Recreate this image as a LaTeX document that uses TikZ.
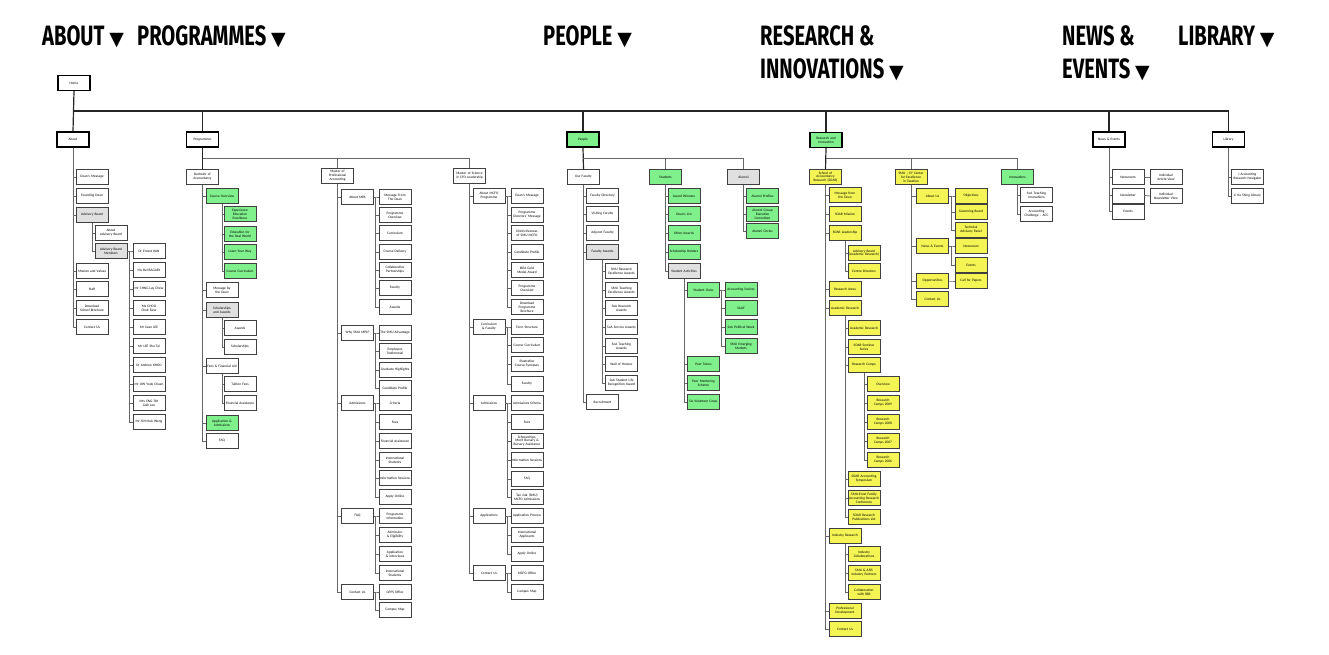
\documentclass[tikz,border=0pt]{standalone}
\usepackage{fontspec}
\newfontfamily\boxfont{Carlito}
\newfontfamily\headfont{Fira Sans}[FakeStretch=0.72]
\newfontfamily\trifont{DejaVu Sans}
\usetikzlibrary{shadows}

\definecolor{pagegreen}{RGB}{128,240,140}
\definecolor{pageyellow}{RGB}{244,244,84}
\newcommand\menutri{{\trifont\fontsize{19}{19}\selectfont ▼}}
\newcommand\boxtext{\boxfont\fontsize{3.5}{3.9}\selectfont\hyphenpenalty=10000\exhyphenpenalty=10000}

\tikzset{
  basebox/.style={minimum width=32pt, minimum height=15pt, inner sep=0.8pt, text width=30pt,
    align=center, font=\boxtext},
  page/.style={basebox, draw=black!75, line width=0.5pt, fill=white,
    drop shadow={shadow xshift=0.8pt, shadow yshift=-0.8pt, fill=black!60}},
  top/.style={basebox, draw=black, line width=1.3pt, fill=white},
  grn/.style={fill=pagegreen},
  ylw/.style={fill=pageyellow},
  gry/.style={fill=black!12},
  link/.style={draw=black!60, line width=0.8pt},
  trunk/.style={draw=black!85, line width=1.2pt},
  menu/.style={font=\headfont\bfseries\fontsize{28}{28}\selectfont, anchor=base west, inner sep=0pt},
}

\begin{document}
\begin{tikzpicture}[x=1pt, y=-1pt]
  \useasboundingbox (0,0) rectangle (1329,655);
  % ------- menu headings -------
  \node[menu] (mabout) at (42,46) {ABOUT \menutri};
  \node[menu] (mprog) at (137,46) {PROGRAMMES \menutri};
  \node[menu] (mpeople) at (543,46) {PEOPLE \menutri};
  \node[menu] (mresearch) at (760,46) {RESEARCH \&};
  \node[menu] (minnov) at (760,79) {INNOVATIONS \menutri};
  \node[menu] (mnews) at (1062,46) {NEWS \&};
  \node[menu] (mevents) at (1062,79) {EVENTS \menutri};
  \node[menu] (mlibrary) at (1178,46) {LIBRARY \menutri};

  % ------- home and top level -------
  \node[top] (home) at (74,83) {Home};
  \node[top] (about) at (73,139.5) {About};
  \node[top] (programmes) at (202.5,139.5) {Programmes};
  \node[top,grn] (people) at (583,139.5) {People};
  \node[top,grn] (research) at (826,140) {Research and Innovation};
  \node[top] (news) at (1109,139.5) {News \& Events};
  \node[top] (library) at (1228.5,139.5) {Library};
  \coordinate (bus) at (73,111);
  \draw[trunk] (home.south) -- (about.north);
  \foreach \t in {programmes,people,research,news,library}
    \draw[trunk] (bus) -| (\t.north);

  % ------- about -------
  \node[page] (dean) at (92,177) {Dean's Message};
  \node[page] (founding) at (92,196) {Founding Dean};
  \node[page,gry] (advboard) at (92,215) {Advisory Board};
  \node[page] (aboutadv) at (111,233) {About Advisory Board};
  \node[page,gry] (advmembers) at (111,251) {Advisory Board Members};
  \node[page] (mission) at (92,271) {Mission and Values};
  \node[page] (staff) at (92,289) {Staff};
  \node[page] (brochure) at (92,308) {Download School Brochure};
  \node[page] (aboutcontact) at (92,327) {Contact Us};
  \foreach \c in {dean,founding,advboard,mission,staff,brochure,aboutcontact}
    \draw[link] (about.south) |- (\c.west);
  \foreach \c in {aboutadv,advmembers}
    \draw[link] (advboard.south) |- (\c.west);
  \foreach \n/\y/\txt in {mem1/251/Dr Ernest KAN, mem2/270/Ms Bel BAGARY, mem3/289/Mr CHNG Lay Chew,
      mem4/308/Ms CHOO Chek Siew, mem5/327/Mr Sean LEE, mem6/346/Mr LEE Sha Tai,
      mem7/365/Dr Andrew KHOO, mem8/384/Mr OW Yook Chuen, mem9/403/Mrs ENG-TAY Gaik Lee,
      mem10/422/Mr SIM Kok Weng}{
    \node[page] (\n) at (149,\y) {\txt};
    \draw[link] (advmembers.east) -| ([xshift=-3pt]\n.west) -- (\n.west);
  }

  % ------- programmes -------
  \node[page] (bachelor) at (202.5,177) {Bachelor of Accountancy};
  \node[page] (mpa) at (337.5,176) {Master of Professional Accounting};
  \node[page] (msc) at (469.5,176) {Master of Science in CFO Leadership};
  \coordinate (progbus) at (202.5,158);
  \draw[trunk] (programmes.south) -- (bachelor.north);
  \draw[link] (progbus) -| (mpa.north);
  \draw[link] (progbus) -| (msc.north);
  % bachelor
  \node[page,grn] (coverview) at (222,196) {Course Overview};
  \node[page] (bmsg) at (222,290) {Message by the Dean};
  \node[page,gry] (schol) at (222,310) {Scholarships and Awards};
  \node[page] (fees) at (222,366) {Fees \& Financial Aid};
  \node[page,grn] (appadm) at (222,423) {Application \& Admissions};
  \node[page] (bfaq) at (222,441) {FAQ};
  \foreach \c in {coverview,bmsg,schol,fees,appadm,bfaq}
    \draw[link] (bachelor.south) |- (\c.west);
  \foreach \n/\y/\txt in {ce1/214/Experience Education Excellence, ce2/234/Education for the Real World,
      ce3/252/Learn Your Way, ce4/271/Course Curriculum}{
    \node[page,grn] (\n) at (240,\y) {\txt};
    \draw[link] (coverview.south) |- (\n.west);
  }
  \node[page] (awards) at (240,328) {Awards};
  \node[page] (scholarships) at (240,347) {Scholarships};
  \node[page] (tuition) at (240,384) {Tuition Fees};
  \node[page] (finaid) at (240,403) {Financial Assistance};
  \foreach \c in {awards,scholarships} \draw[link] (schol.south) |- (\c.west);
  \foreach \c in {tuition,finaid} \draw[link] (fees.south) |- (\c.west);

  % master of professional accounting
  \node[page] (aboutmpa) at (357.5,197) {About MPA};
  \node[page] (whympa) at (357.5,333) {Why SMU MPA?};
  \node[page] (mpaadm) at (357.5,403) {Admissions};
  \node[page] (mpafaq) at (357.5,516) {FAQ};
  \node[page] (mpacontact) at (357.5,592) {Contact Us};
  \foreach \c in {aboutmpa,whympa,mpaadm,mpafaq,mpacontact}
    \draw[link] (mpa.south) |- (\c.west);
  \foreach \p/\n/\y/\txt in {aboutmpa/mpa1/197/Message From The Dean, aboutmpa/mpa2/215/Programme Overview,
      aboutmpa/mpa3/233/Curriculum, aboutmpa/mpa4/252/Course Delivery,
      aboutmpa/mpa5/270/Collaborative Partnerships, aboutmpa/mpa6/288/Faculty, aboutmpa/mpa7/307/Awards,
      whympa/mpa8/333/The SMU Advantage, whympa/mpa9/351/Employers Testimonial,
      whympa/mpa10/370/Graduate Highlights, whympa/mpa11/388/Candidate Profile,
      mpaadm/mpa12/403/Criteria, mpaadm/mpa13/422/Fees, mpaadm/mpa14/441/Financial Assistance,
      mpaadm/mpa15/460/International Students, mpaadm/mpa16/478/Information Sessions,
      mpaadm/mpa17/497/Apply Online,
      mpafaq/mpa18/516/Programme Information, mpafaq/mpa19/535/Admission \& Eligibility,
      mpafaq/mpa20/554/Application \& Interviews, mpafaq/mpa21/573/International Students,
      mpacontact/mpa22/592/GPPS Office, mpacontact/mpa23/610/Campus Map}{
    \node[page] (\n) at (395,\y) {\txt};
    \draw[link] (\p.east) -| ([xshift=-3pt]\n.west) -- (\n.west);
  }

  % master of science in cfo leadership
  \node[page] (aboutmcfo) at (489,196) {About MCFO Programme};
  \node[page] (curfac) at (489,327) {Curriculum \& Faculty};
  \node[page] (mcfoadm) at (489,403) {Admissions};
  \node[page] (mcfoapp) at (489,516) {Applications};
  \node[page] (mcfocontact) at (489,573) {Contact Us};
  \foreach \c in {aboutmcfo,curfac,mcfoadm,mcfoapp,mcfocontact}
    \draw[link] (msc.south) |- (\c.west);
  \foreach \p/\n/\y/\txt in {aboutmcfo/cfo1/196/Dean's Message, aboutmcfo/cfo2/215/Programme Directors' Message,
      aboutmcfo/cfo3/233/Distinctiveness of SMU MCFO, aboutmcfo/cfo4/252/Candidate Profile,
      aboutmcfo/cfo5/270/IBEA Gold Medal Award, aboutmcfo/cfo6/288/Programme Overview,
      aboutmcfo/cfo7/307/Download Programme Brochure,
      curfac/cfo8/327/Term Structure, curfac/cfo9/345/Course Curriculum,
      curfac/cfo10/364/Illustrative Course Synopses, curfac/cfo11/384/Faculty,
      mcfoadm/cfo12/403/Admissions Criteria, mcfoadm/cfo13/422/Fees,
      mcfoadm/cfo14/441/{Scholarships, Merit Bursary \& Bursary Assistance},
      mcfoadm/cfo15/460/Information Sessions, mcfoadm/cfo16/479/FAQ,
      mcfoadm/cfo17/497/Tan Jiak (SMU) MCFO Admissions,
      mcfoapp/cfo18/516/Application Process, mcfoapp/cfo19/535/International Applicants,
      mcfoapp/cfo20/554/Apply Online,
      mcfocontact/cfo21/573/MCFO Office, mcfocontact/cfo22/592/Campus Map}{
    \node[page] (\n) at (527,\y) {\txt};
    \draw[link] (\p.east) -| ([xshift=-3pt]\n.west) -- (\n.west);
  }

  % ------- people -------
  \node[page] (ourfac) at (583.5,177) {Our Faculty};
  \node[page,grn] (students) at (665.5,177) {Students};
  \node[page,gry] (alumni) at (743.5,177) {Alumni};
  \coordinate (peoplebus) at (583,158);
  \draw[trunk] (people.south) -- (ourfac.north);
  \draw[link] (peoplebus) -| (students.north);
  \draw[link] (peoplebus) -| (alumni.north);
  \node[page] (facdir) at (602.5,196) {Faculty Directory};
  \node[page] (visfac) at (602.5,214) {Visiting Faculty};
  \node[page] (adjfac) at (602.5,233) {Adjunct Faculty};
  \node[page,gry] (facawards) at (602.5,252) {Faculty Awards};
  \node[page] (recruit) at (602.5,402) {Recruitment};
  \foreach \c in {facdir,visfac,adjfac,facawards,recruit}
    \draw[link] (ourfac.south) |- (\c.west);
  \foreach \n/\y/\txt in {fa1/271/SMU Research Excellence Awards, fa2/290/SMU Teaching Excellence Awards,
      fa3/308/SoA Research Awards, fa4/327/SoA Service Awards, fa5/346/SoA Teaching Awards,
      fa6/364/Wall of Honour, fa7/383/SoA Student Life Recognition Award}{
    \node[page] (\n) at (621.5,\y) {\txt};
    \draw[link] (facawards.south) |- (\n.west);
  }
  \foreach \n/\y/\txt in {st1/196/Award Winners, st2/214/Dean's List, st3/233/Other Awards,
      st4/252/Scholarship Holders}{
    \node[page,grn] (\n) at (684,\y) {\txt};
    \draw[link] (students.south) |- (\n.west);
  }
  \node[page,gry] (stact) at (684,271) {Student Activities};
  \draw[link] (students.south) |- (stact.west);
  \node[page,grn] (stclubs) at (703.5,290) {Student Clubs};
  \draw[link] (stact.south) |- (stclubs.west);
  \foreach \n/\y/\txt in {sa1/364/Peer Tutors, sa2/383/Peer Mentoring Scheme, sa3/402/SA Volunteer Corps}{
    \node[page,grn] (\n) at (703.5,\y) {\txt};
    \draw[link] (stact.south) |- (\n.west);
  }
  \foreach \n/\y/\txt in {cl1/290/Accounting Society, cl2/308/SAAF, cl3/327/SoA Political Week,
      cl4/346/SMU Emerging Markets}{
    \node[page,grn] (\n) at (741,\y) {\txt};
    \draw[link] (stclubs.east) -| ([xshift=-3pt]\n.west) -- (\n.west);
  }
  \foreach \n/\y/\txt in {al1/196/Alumni Profiles, al2/214/Alumni Group Executive Committee,
      al3/231/Alumni Circles}{
    \node[page,grn] (\n) at (762.5,\y) {\txt};
    \draw[link] (alumni.south) |- (\n.west);
  }

  % ------- research and innovation -------
  \node[page,ylw] (soar) at (825.5,177) {School of Accountancy Research (SOAR)};
  \node[page,ylw] (smuey) at (911,177) {SMU – EY Center for Excellence in Taxation};
  \node[page,grn] (innov) at (1017.5,177) {Innovations};
  \coordinate (resbus) at (826,158);
  \draw[trunk] (research.south) -- (soar.north);
  \draw[link] (resbus) -| (smuey.north);
  \draw[link] (resbus) -| (innov.north);
  % soar
  \node[page,ylw] (soarlead) at (845,233) {SOAR Leadership};
  \node[page,ylw] (acadres) at (845,308) {Academic Research};
  \node[page,ylw] (indres) at (845,536) {Industry Research};
  \foreach \n/\y/\txt in {so1/195/Message from the Dean, so2/214/SOAR Mission, so3/289/Research Areas,
      so4/611/Professional Development, so5/629/Contact Us}{
    \node[page,ylw] (\n) at (845,\y) {\txt};
  }
  \foreach \c in {so1,so2,soarlead,so3,acadres,indres,so4,so5}
    \draw[link] (soar.south) |- (\c.west);
  \node[page,ylw] (rescamps) at (864,365) {Research Camps};
  \draw[link] (acadres.south) |- (rescamps.west);
  \foreach \p/\n/\y/\txt in {soarlead/sl1/253/Advisory Board (Academic Research), soarlead/sl2/271/Centre Directors,
      acadres/ar1/328/Academic Research, acadres/ar2/347/SOAR Seminar Series,
      acadres/ar3/479/SOAR Accounting Symposium,
      acadres/ar4/498/SMU-Ernst Family Accounting Research Conference,
      acadres/ar5/517/SOAR Research Publications List,
      indres/ir1/554/Industry Collaborations, indres/ir2/573/SMU \& ASIS Industry Partners,
      indres/ir3/592/Collaboration with SBB}{
    \node[page,ylw] (\n) at (864,\y) {\txt};
    \draw[link] (\p.south) |- (\n.west);
  }
  \foreach \n/\y/\txt in {rc1/384/Overview, rc2/403/Research Camps 2009, rc3/422/Research Camps 2008,
      rc4/441/Research Camps 2007, rc5/460/Research Camps 2006}{
    \node[page,ylw] (\n) at (883,\y) {\txt};
    \draw[link] (rescamps.south) |- (\n.west);
  }
  % smu - ey
  \node[page,ylw] (eyabout) at (932.5,196) {About Us};
  \node[page,ylw] (eynews) at (932.5,246) {News \& Events};
  \node[page,ylw] (eyopp) at (932.5,281) {Opportunities};
  \node[page,ylw] (eycontact) at (932.5,299) {Contact Us};
  \foreach \c in {eyabout,eynews,eyopp,eycontact}
    \draw[link] (smuey.south) |- (\c.west);
  \foreach \p/\n/\y/\txt in {eyabout/ey1/196/Objectives, eyabout/ey2/212/Governing Board,
      eyabout/ey3/230/Technical Advisory Panel, eynews/ey4/246/Newsroom, eynews/ey5/265/Events,
      eyopp/ey6/281/Call for Papers}{
    \node[page,ylw] (\n) at (971,\y) {\txt};
    \draw[link] (\p.east) -| ([xshift=-3pt]\n.west) -- (\n.west);
  }
  % innovations
  \node[page] (inn1) at (1036.5,195) {SoA Teaching Innovations};
  \node[page] (inn2) at (1036.5,214) {Accounting Challenge – ACC};
  \foreach \c in {inn1,inn2} \draw[link] (innov.south) |- (\c.west);

  % ------- news and library -------
  \node[page] (newsroom) at (1128,177) {Newsroom};
  \node[page] (newsletter) at (1128,195.5) {Newsletter};
  \node[page] (events) at (1128,211.5) {Events};
  \foreach \c in {newsroom,newsletter,events} \draw[link] (news.south) |- (\c.west);
  \node[page] (artview) at (1166,177) {Individual Article View};
  \node[page] (nlview) at (1166,196) {Individual Newsletter View};
  \draw[link] (newsroom.east) -- (artview.west);
  \draw[link] (newsletter.east) -- (nlview.west);
  \node[page] (navigator) at (1247.5,177) {i-Accounting Research Navigator};
  \node[page] (lksl) at (1247.5,196) {Li Ka Shing Library};
  \foreach \c in {navigator,lksl} \draw[link] (library.south) |- (\c.west);
\end{tikzpicture}
\end{document}
